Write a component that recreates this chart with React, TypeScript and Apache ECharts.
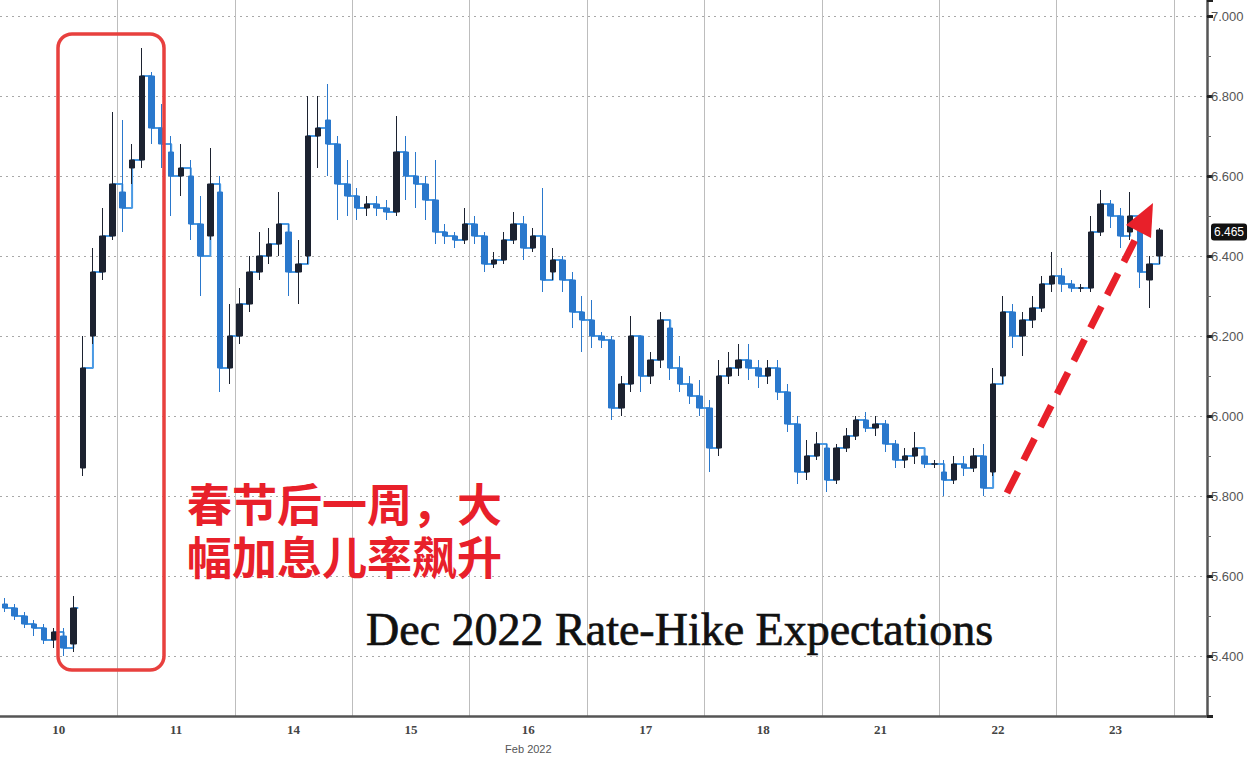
import React, { useEffect, useRef } from 'react';
import * as echarts from 'echarts';

// Trading-day labels on the x axis
const dayLabels = ['10', '11', '14', '15', '16', '17', '18', '21', '22', '23'];
const monthLabel = 'Feb 2022';
const slotsPerDay = 12;

// Each entry: [open, close, low, high] for one 1/12-day slot
const feb10 = [
  [5.53, 5.52, 5.51, 5.545], [5.52, 5.50, 5.49, 5.53], [5.50, 5.48, 5.47, 5.51],
  [5.48, 5.47, 5.45, 5.49], [5.47, 5.44, 5.43, 5.48], [5.44, 5.46, 5.42, 5.47],
  [5.45, 5.42, 5.40, 5.47], [5.43, 5.52, 5.41, 5.55], [5.87, 6.12, 5.85, 6.20],
  [6.20, 6.36, 6.18, 6.42], [6.36, 6.45, 6.34, 6.52], [6.45, 6.58, 6.44, 6.76],
];
const feb11 = [
  [6.56, 6.52, 6.46, 6.74], [6.62, 6.64, 6.58, 6.68], [6.64, 6.85, 6.62, 6.92],
  [6.85, 6.72, 6.68, 6.86], [6.72, 6.68, 6.62, 6.78], [6.66, 6.60, 6.50, 6.70],
  [6.60, 6.62, 6.55, 6.68], [6.60, 6.48, 6.44, 6.64], [6.48, 6.40, 6.30, 6.55],
  [6.45, 6.58, 6.44, 6.67], [6.56, 6.12, 6.06, 6.60], [6.12, 6.20, 6.08, 6.28],
];
const feb14 = [
  [6.20, 6.28, 6.18, 6.32], [6.28, 6.36, 6.26, 6.40], [6.36, 6.40, 6.34, 6.46],
  [6.40, 6.43, 6.38, 6.47], [6.43, 6.48, 6.40, 6.56], [6.46, 6.36, 6.30, 6.48],
  [6.36, 6.38, 6.28, 6.44], [6.40, 6.70, 6.38, 6.80], [6.70, 6.72, 6.62, 6.80],
  [6.74, 6.68, 6.60, 6.83], [6.68, 6.58, 6.49, 6.70], [6.58, 6.55, 6.50, 6.64],
];
const feb15 = [
  [6.55, 6.52, 6.49, 6.57], [6.52, 6.53, 6.50, 6.55], [6.53, 6.52, 6.50, 6.55],
  [6.52, 6.51, 6.49, 6.54], [6.51, 6.66, 6.50, 6.75], [6.66, 6.60, 6.54, 6.70],
  [6.60, 6.58, 6.52, 6.66], [6.58, 6.54, 6.49, 6.60], [6.54, 6.46, 6.43, 6.64],
  [6.46, 6.45, 6.43, 6.48], [6.45, 6.44, 6.42, 6.46], [6.44, 6.48, 6.43, 6.52],
];
const feb16 = [
  [6.48, 6.45, 6.43, 6.50], [6.45, 6.38, 6.36, 6.46], [6.38, 6.39, 6.37, 6.41],
  [6.39, 6.44, 6.38, 6.46], [6.44, 6.48, 6.43, 6.51], [6.48, 6.42, 6.39, 6.50],
  [6.42, 6.45, 6.41, 6.47], [6.45, 6.34, 6.31, 6.57], [6.36, 6.39, 6.34, 6.42],
  [6.39, 6.34, 6.31, 6.40], [6.34, 6.26, 6.22, 6.36], [6.26, 6.24, 6.16, 6.30],
];
const feb17 = [
  [6.24, 6.20, 6.17, 6.29], [6.20, 6.19, 6.17, 6.21], [6.19, 6.02, 5.99, 6.20],
  [6.02, 6.08, 6.00, 6.10], [6.08, 6.20, 6.06, 6.25], [6.20, 6.10, 6.06, 6.20],
  [6.10, 6.14, 6.08, 6.16], [6.14, 6.24, 6.12, 6.26], [6.22, 6.12, 6.09, 6.24],
  [6.12, 6.08, 6.06, 6.15], [6.08, 6.05, 6.03, 6.10], [6.05, 6.02, 6.00, 6.09],
];
const feb18 = [
  [6.02, 5.92, 5.86, 6.04], [5.92, 6.10, 5.90, 6.14], [6.10, 6.12, 6.08, 6.16],
  [6.12, 6.14, 6.10, 6.18], [6.14, 6.12, 6.09, 6.18], [6.12, 6.10, 6.07, 6.14],
  [6.10, 6.12, 6.08, 6.14], [6.12, 6.06, 6.04, 6.14], [6.06, 5.98, 5.96, 6.08],
  [5.98, 5.86, 5.83, 6.00], [5.86, 5.90, 5.84, 5.94], [5.90, 5.93, 5.89, 5.96],
];
const feb21 = [
  [5.92, 5.84, 5.81, 5.93], [5.84, 5.92, 5.83, 5.93], [5.92, 5.95, 5.91, 5.97],
  [5.95, 5.99, 5.94, 6.00], [5.99, 5.97, 5.96, 6.01], [5.97, 5.98, 5.95, 6.00],
  [5.98, 5.93, 5.91, 5.99], [5.93, 5.89, 5.87, 5.94], [5.89, 5.90, 5.87, 5.92],
  [5.90, 5.92, 5.88, 5.96], [5.90, 5.88, 5.87, 5.90], [5.88, 5.88, 5.87, 5.89],
];
const feb22 = [
  [5.86, 5.84, 5.80, 5.89], [5.84, 5.88, 5.83, 5.90], [5.88, 5.87, 5.85, 5.90],
  [5.87, 5.90, 5.86, 5.92], [5.90, 5.82, 5.80, 5.93], [5.86, 6.08, 5.85, 6.12],
  [6.10, 6.26, 6.08, 6.30], [6.26, 6.20, 6.17, 6.28], [6.20, 6.24, 6.15, 6.26],
  [6.24, 6.27, 6.22, 6.30], [6.27, 6.33, 6.26, 6.35], [6.33, 6.35, 6.31, 6.41],
];
const feb23 = [
  [6.35, 6.33, 6.31, 6.37], [6.33, 6.32, 6.31, 6.34], [6.32, 6.32, 6.31, 6.33],
  [6.32, 6.46, 6.31, 6.50], [6.46, 6.53, 6.45, 6.565], [6.53, 6.50, 6.47, 6.54],
  [6.50, 6.45, 6.42, 6.52], [6.46, 6.50, 6.44, 6.56], [6.48, 6.36, 6.32, 6.48],
  [6.34, 6.38, 6.27, 6.40], [6.40, 6.465, 6.38, 6.47],
];
const lastValue = 6.465;

const titleText = 'Dec 2022 Rate-Hike Expectations';
const noteLines = ['春节后一周，大', '幅加息儿率飙升'];

const days = [feb10, feb11, feb14, feb15, feb16, feb17, feb18, feb21, feb22, feb23];

export default function App() {
  const ref = useRef<HTMLDivElement>(null);

  useEffect(() => {
    if (!ref.current) return;
    const chart = echarts.init(ref.current, undefined, { renderer: 'svg' });

    const candles: number[][] = [];
    const closes: (number | string)[][] = [];
    let prevClose: number | null = null;
    days.forEach((arr, d) => {
      arr.forEach((c, k) => {
        const x = d + (k + 0.5) / slotsPerDay;
        candles.push([x, c[0], c[1], c[2], c[3]]);
        // break the connecting line across a price gap
        if (prevClose !== null && Math.abs(c[0] - prevClose) > 0.2) {
          closes.push([x - 0.5 / slotsPerDay, '-']);
        }
        closes.push([x, c[1]]);
        prevClose = c[1];
      });
    });

    const red = '#e8202a';

    chart.setOption({
      animation: false,
      backgroundColor: '#ffffff',
      grid: { left: 0, right: 53, top: 0, bottom: 42, containLabel: false },
      xAxis: [
        {
          type: 'value',
          min: 0,
          max: 10.28,
          interval: 1,
          axisLine: { show: true, onZero: false, lineStyle: { color: '#555', width: 2.5 } },
          axisTick: { show: false },
          axisLabel: { show: false },
          splitLine: {
            show: true,
            showMinLine: false,
            showMaxLine: false,
            lineStyle: { color: '#bdbdbd', width: 1 },
          },
        },
        {
          type: 'value',
          position: 'bottom',
          min: -0.5,
          max: 9.78,
          minInterval: 1,
          maxInterval: 1,
          axisLine: { show: false, onZero: false },
          axisTick: { show: false },
          splitLine: { show: false },
          axisLabel: {
            show: true,
            showMinLabel: false,
            showMaxLabel: false,
            margin: 5,
            formatter: (v: number) => {
              if (!Number.isInteger(v)) return '';
              const i = Math.abs(v);
              const lab = '{d|' + dayLabels[i] + '}';
              return i === 4 ? lab + '\n{m|' + monthLabel + '}' : lab;
            },
            rich: {
              d: { fontFamily: 'Liberation Serif', fontSize: 13, color: '#444', fontWeight: 'bold', lineHeight: 16 },
              m: { fontFamily: 'Liberation Sans', fontSize: 11, color: '#555', lineHeight: 24 },
            },
          },
        },
      ],
      yAxis: {
        type: 'value',
        position: 'right',
        min: 5.25,
        max: 7.04,
        minInterval: 0.2,
        maxInterval: 0.2,
        axisLine: { show: true, onZero: false, lineStyle: { color: '#555', width: 2.5 } },
        axisTick: { show: true, inside: false, length: 6, lineStyle: { color: '#222', width: 3 } },
        minorTick: { show: true, splitNumber: 2, length: 4, lineStyle: { color: '#666', width: 1 } },
        axisLabel: {
          showMinLabel: false,
          showMaxLabel: false,
          margin: 4,
          formatter: (v: number) => v.toFixed(3),
          color: '#555',
          fontSize: 13,
          fontFamily: 'Liberation Sans',
        },
        splitLine: {
          show: true,
          showMinLine: false,
          showMaxLine: false,
          lineStyle: { color: '#a8a8a8', type: [2, 4], width: 1 },
        },
      },
      series: [
        {
          type: 'line',
          xAxisIndex: 0,
          yAxisIndex: 0,
          data: closes,
          step: 'end',
          symbol: 'none',
          connectNulls: false,
          lineStyle: { color: '#4a9ae4', width: 2 },
          z: 1,
        },
        {
          type: 'candlestick',
          xAxisIndex: 0,
          yAxisIndex: 0,
          data: candles,
          encode: { x: 0, y: [1, 2, 3, 4] },
          barWidth: 6,
          z: 2,
          itemStyle: {
            color: '#1c2230',
            color0: '#2a78cc',
            borderColor: '#1c2230',
            borderColor0: '#2a78cc',
            borderWidth: 1,
          },
          markLine: {
            silent: true,
            symbol: ['none', 'none'],
            data: [{ yAxis: lastValue }],
            lineStyle: { color: 'rgba(0,0,0,0)', width: 0 },
            label: {
              show: true,
              position: 'end',
              distance: 4,
              formatter: lastValue.toFixed(3),
              color: '#ffffff',
              backgroundColor: '#111111',
              borderRadius: 3,
              padding: [3, 3, 2, 3],
              fontSize: 12,
              fontFamily: 'Liberation Sans',
            },
          },
        },
      ],
      graphic: [
        {
          type: 'rect',
          shape: { x: 58, y: 34, width: 106, height: 636, r: 14 },
          style: { fill: 'none', stroke: '#e8403e', lineWidth: 3.5 },
          z: 100,
        },
        {
          type: 'text',
          x: 187,
          y: 529,
          style: {
            text: noteLines.join('\n'),
            fill: red,
            font: 'bold 45px "Noto Sans CJK SC"',
            lineHeight: 53,
            textVerticalAlign: 'middle',
          },
          z: 100,
        },
        {
          type: 'text',
          x: 366,
          y: 629,
          style: {
            text: titleText,
            fill: '#111',
            stroke: '#111',
            lineWidth: 0.7,
            font: '46px "Liberation Serif"',
            textVerticalAlign: 'middle',
          },
          z: 100,
        },
        {
          type: 'line',
          shape: { x1: 1007, y1: 493, x2: 1139, y2: 232 },
          style: { stroke: red, lineWidth: 7, lineDash: [24, 13] },
          z: 100,
        },
        {
          type: 'polygon',
          shape: { points: [[1153, 203], [1151, 238], [1126, 225]] },
          style: { fill: red },
          z: 100,
        },
      ],
    });

    return () => chart.dispose();
  }, []);

  return (
    <div
      ref={ref}
      style={{ position: 'fixed', left: 0, top: 0, width: 1260, height: 758, background: '#fff' }}
    />
  );
}
